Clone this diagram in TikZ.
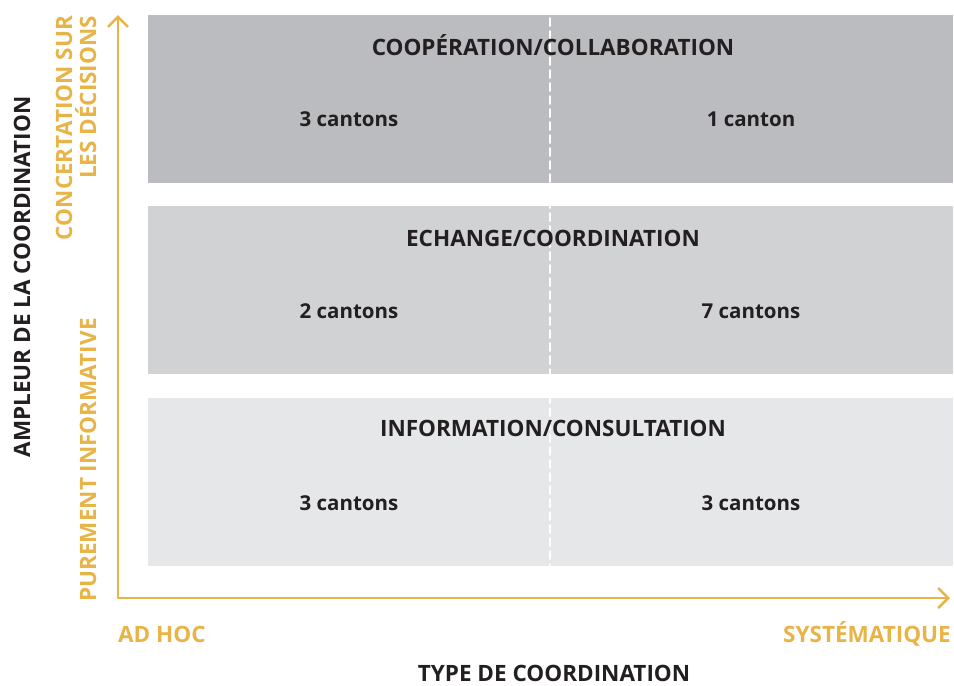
\documentclass[tikz,border=0pt]{standalone}
\usepackage{fontspec}
\setmainfont{Open Sans}
\usetikzlibrary{arrows.meta}
\definecolor{bandhigh}{HTML}{BBBCC0}
\definecolor{bandmid}{HTML}{D1D2D4}
\definecolor{bandlow}{HTML}{E6E7E8}
\definecolor{ink}{HTML}{231F20}
\definecolor{ochre}{HTML}{E8B447}
\tikzset{
  band/.style={fill=#1,draw=none,minimum width=805pt,minimum height=168pt,inner sep=0pt},
  label/.style={font=\fontsize{22.5}{24}\selectfont\bfseries,text=ink,inner sep=0pt},
  count/.style={font=\fontsize{20.5}{24}\selectfont\bfseries,text=ink,inner sep=0pt},
  axislabel/.style={font=\fontsize{22.5}{24}\selectfont\bfseries,text=ochre,inner sep=0pt},
  axis/.style={ochre,line width=2.5pt},
  divider/.style={white,line width=2pt,dash pattern=on 8pt off 5pt}
}
\begin{document}
\begin{tikzpicture}[x=1pt,y=-1pt,>={Straight Barb[length=10pt,width=20pt]}, line join=round, line cap=round]
		\useasboundingbox (0,0) rectangle (954,686);
		% bands
		\node[band=bandhigh] (coop) at (550.5,99) {};
		\node[band=bandmid] (echange) at (550.5,290) {};
		\node[band=bandlow] (info) at (550.5,481.5) {};
		\coordinate (midtop) at (550,18);
		\coordinate (midbot) at (550,565);
		\draw[divider] (midtop) -- (midbot);
		% band texts
		\node[label] (coopT) at (553,45) {COOPÉRATION/COLLABORATION};
		\node[count] (coopL) at (349,119) {3 cantons};
		\node[count] (coopR) at (751,119) {1 canton};
		\node[label] (echangeT) at (553,238) {ECHANGE/COORDINATION};
		\node[count] (echangeL) at (349,311) {2 cantons};
		\node[count] (echangeR) at (751,311) {7 cantons};
		\node[label] (infoT) at (553,428) {INFORMATION/CONSULTATION};
		\node[count] (infoL) at (349,503) {3 cantons};
		\node[count] (infoR) at (751,503) {3 cantons};
		% axes
		\coordinate (origin) at (118,598);
		\coordinate (ytip) at (118,15);
		\coordinate (xtip) at (950,598);
		\draw[axis,<->] (ytip) -- (origin) -- (xtip);
		\node[label,rotate=90] (ampleur) at (22,277) {AMPLEUR DE LA COORDINATION};
		\node[axislabel,rotate=90,align=right] (concert) at (76,128) {CONCERTATION SUR\\LES DÉCISIONS};
		\node[axislabel,rotate=90] (purement) at (88,460) {PUREMENT INFORMATIVE};
		\node[axislabel,anchor=west] (adhoc) at (118,634) {AD HOC};
		\node[axislabel,anchor=east] (syst) at (951,634) {SYSTÉMATIQUE};
		\node[label] (type) at (554,673) {TYPE DE COORDINATION};
\end{tikzpicture}
\end{document}
